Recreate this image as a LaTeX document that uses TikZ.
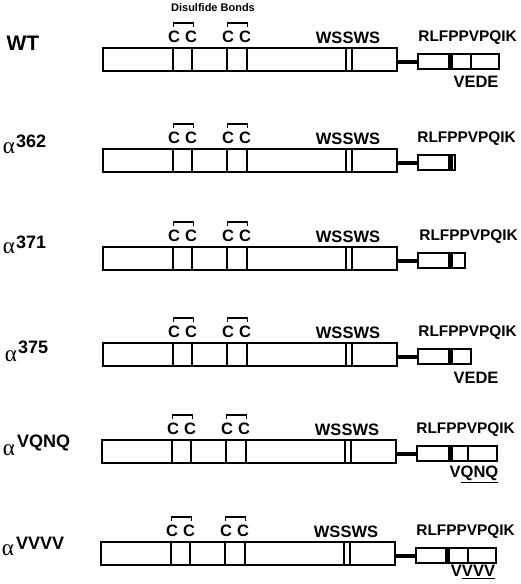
\documentclass[tikz,border=0pt]{standalone}
\usepackage{fontspec}
\setmainfont{Liberation Sans}
\newfontfamily\alphafont{Liberation Serif}
\tikzset{
  box/.style={draw, line width=2pt, anchor=north west, inner sep=0pt, outer sep=0pt},
  conn/.style={line width=4pt},
  divline/.style={line width=2pt},
  bracketline/.style={line width=1.2pt},
  lbl/.style={font=\bfseries\fontsize{16.5}{17}\selectfont, inner sep=0pt},
  seqlbl/.style={font=\bfseries\fontsize{15.4}{16}\selectfont, inner sep=0pt, anchor=east},
  rowname/.style={font=\bfseries\fontsize{21}{22}\selectfont, inner sep=0pt},
  supname/.style={font=\bfseries\fontsize{18}{18}\selectfont, inner sep=0pt, anchor=west},
  alphaname/.style={font=\alphafont\fontsize{23}{23}\selectfont, inner sep=0pt},
  small/.style={font=\bfseries\fontsize{11}{12}\selectfont, inner sep=0pt}
}
\newcommand\mainpart[1]{%
  \node[box, minimum width=294pt, minimum height=23pt] (m#1) at (103,0) {};
  \foreach \cx in {173,192,227,247} {\draw[divline] (\cx,0) -- (\cx,23);}
  \draw[divline] (346,0) -- (346,23);
  \draw[divline] (352,0) -- (352,23);
  \draw[bracketline] (173.5,-21) -- (173.5,-25) -- (193.5,-25) -- (193.5,-21);
  \draw[bracketline] (227.5,-21) -- (227.5,-25) -- (247.5,-25) -- (247.5,-21);
  \node[lbl] (ca#1) at (174,-11) {C};
  \node[lbl] (cb#1) at (191,-11) {C};
  \node[lbl] (cc#1) at (228,-11) {C};
  \node[lbl] (cd#1) at (245,-11) {C};
  \node[lbl] (w#1) at (348,-10) {WSSWS};
}
% #1 id, #2 right edge, #3 bar left
\newcommand\smallpart[3]{%
  \node[box, minimum width={(#2-418)*1pt}, minimum height=15pt] (s#1) at (418,6) {};
  \fill (#3,6) rectangle ++(5,15);
  \draw[conn] (m#1.east |- s#1.west) -- (s#1.west);
}
\begin{document}
\begin{tikzpicture}[x=1pt,y=-1pt]
\useasboundingbox (0,0) rectangle (520,584);

% WT
\begin{scope}[shift={(0,48)}]
  \mainpart{1}
  \smallpart{1}{499}{448}
  \draw[divline] (471,6) -- (471,21);
  \node[seqlbl] (r1) at (517,-10) {RLFPPVPQIK};
  \node[small] (db) at (213,-40) {Disulfide Bonds};
  \node[rowname] (n1) at (23,-5) {WT};
  \node[lbl] (v1) at (476,34) {VEDE};
\end{scope}

% alpha 362
\begin{scope}[shift={(0,149)}]
  \mainpart{2}
  \smallpart{2}{455}{448}
  \node[seqlbl] (r2) at (516,-10) {RLFPPVPQIK};
  \node[alphaname] (a2) at (9,-1) {α};
  \node[supname] (n2) at (16,-8) {362};
\end{scope}

% alpha 371
\begin{scope}[shift={(0,247)}]
  \mainpart{3}
  \smallpart{3}{465}{448}
  \node[seqlbl] (r3) at (518,-10) {RLFPPVPQIK};
  \node[alphaname] (a3) at (9,1) {α};
  \node[supname] (n3) at (16,-5) {371};
\end{scope}

% alpha 375
\begin{scope}[shift={(0,343)}]
  \mainpart{4}
  \smallpart{4}{471}{448}
  \node[seqlbl] (r4) at (517,-10) {RLFPPVPQIK};
  \node[alphaname] (a4) at (11,13) {α};
  \node[supname] (n4) at (18,4) {375};
  \node[lbl] (v4) at (476,35) {VEDE};
\end{scope}

% alpha VQNQ
\begin{scope}[shift={(-1,440)}]
  \mainpart{5}
  \smallpart{5}{498}{449}
  \draw[divline] (469,6) -- (469,21);
  \node[seqlbl] (r5) at (516,-10) {RLFPPVPQIK};
  \node[alphaname] (a5) at (10,10) {α};
  \node[supname] (n5) at (18,3) {VQNQ};
  \node[lbl] (v5) at (475,34) {V\underline{QNQ}};
\end{scope}

% alpha VVVV
\begin{scope}[shift={(-2,542)}]
  \mainpart{6}
  \smallpart{6}{498}{447}
  \draw[divline] (470,6) -- (470,21);
  \node[seqlbl] (r6) at (517,-10) {RLFPPVPQIK};
  \node[alphaname] (a6) at (10,8) {α};
  \node[supname] (n6) at (18,1) {VVVV};
  \node[lbl] (v6) at (475,30) {V\underline{VVV}};
\end{scope}
\end{tikzpicture}
\end{document}
